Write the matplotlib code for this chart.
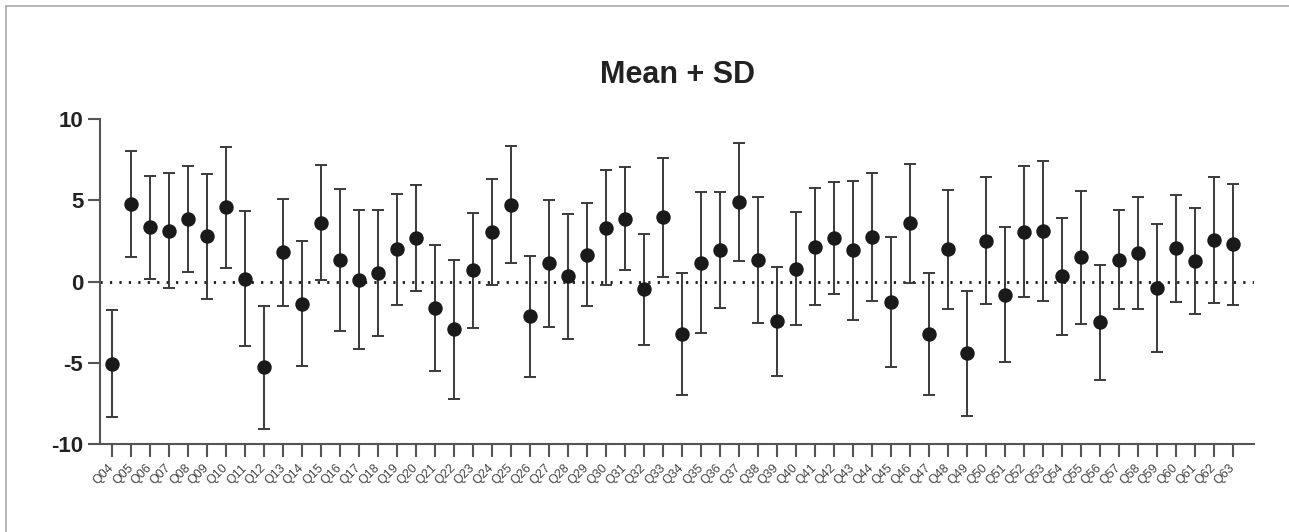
import matplotlib
matplotlib.use("Agg")
import matplotlib.pyplot as plt
from matplotlib.lines import Line2D
import numpy as np

plt.rcParams['font.family'] = ['Liberation Sans', 'DejaVu Sans']

questions = [f"Q{i:02d}" for i in range(4, 64)]
means = [-5.05, 4.76, 3.34, 3.12, 3.86, 2.79, 4.57, 0.18, -5.29, 1.80,
         -1.37, 3.63, 1.33, 0.12, 0.51, 1.99, 2.67, -1.64, -2.95, 0.68,
         3.04, 4.72, -2.15, 1.11, 0.33, 1.66, 3.32, 3.86, -0.49, 3.94,
         -3.24, 1.15, 1.93, 4.88, 1.31, -2.44, 0.80, 2.15, 2.69, 1.93,
         2.73, -1.27, 3.57, -3.22, 1.97, -4.43, 2.52, -0.82, 3.06, 3.10,
         0.31, 1.50, -2.52, 1.35, 1.78, -0.41, 2.05, 1.25, 2.56, 2.28]
sds = [3.28, 3.25, 3.16, 3.55, 3.26, 3.84, 3.73, 4.17, 3.80, 3.29,
       3.86, 3.53, 4.36, 4.30, 3.87, 3.42, 3.28, 3.88, 4.28, 3.54,
       3.28, 3.61, 3.73, 3.88, 3.84, 3.15, 3.54, 3.17, 3.40, 3.68,
       3.76, 4.34, 3.56, 3.64, 3.88, 3.35, 3.48, 3.62, 3.43, 4.27,
       3.93, 4.00, 3.65, 3.74, 3.64, 3.87, 3.89, 4.16, 4.02, 4.32,
       3.60, 4.10, 3.52, 3.04, 3.45, 3.94, 3.29, 3.28, 3.90, 3.73]
yticks = [-10, -5, 0, 5, 10]

W, H = 1289, 532
fig = plt.figure(figsize=(W / 100, H / 100), dpi=100)
ax = fig.add_axes([100 / W, 1 - 444 / H, (1254 - 100) / W, (444 - 119) / H])

x = np.arange(len(questions))
ax.axhline(0, color='#1a1a1a', lw=2.0, dashes=(0.8, 2.6), zorder=1)
ax.errorbar(x, means, yerr=sds, fmt='o', color='#1a1a1a', ecolor='#3a3a3a',
            elinewidth=1.4, capsize=4.6, capthick=1.4, markersize=9.4, zorder=3)

ax.set_xlim(-0.65, len(questions) - 1 + 1.09)
ax.set_ylim(-10, 10)
ax.set_yticks(yticks)
ax.set_yticklabels([str(v) for v in yticks], fontsize=16, fontweight='bold', color='#222222')
ax.set_xticks(x)
ax.set_xticklabels(questions, rotation=45, ha='right', va='center',
                   rotation_mode='anchor', fontsize=9, color='#444444')

for s in ['top', 'right']:
    ax.spines[s].set_visible(False)
for s in ['left', 'bottom']:
    ax.spines[s].set_color('#555555')
    ax.spines[s].set_linewidth(1.5)
ax.tick_params(axis='both', length=9, width=1.5, color='#555555')
ax.tick_params(axis='x', pad=7)
ax.tick_params(axis='y', pad=3)

ax.set_title('Mean + SD', fontsize=22, fontweight='bold', color='#222222', pad=26)

fig.add_artist(Line2D([6 / W, 1], [1 - 6 / H, 1 - 6 / H], transform=fig.transFigure,
                      color='#aaaaaa', lw=1.2))
fig.add_artist(Line2D([6 / W, 6 / W], [0, 1 - 6 / H], transform=fig.transFigure,
                      color='#aaaaaa', lw=1.2))

fig.savefig('out.png', dpi=100)
